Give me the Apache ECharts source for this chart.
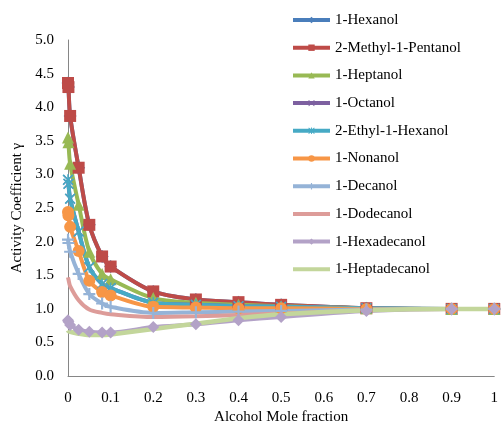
<!DOCTYPE html>
<html>
<head>
<meta charset="utf-8">
<script src="https://cdn.jsdelivr.net/npm/echarts@6/dist/echarts.min.js"></script>
<style>
  html, body { margin: 0; padding: 0; background: #ffffff; }
  #chart { width: 501px; height: 430px; }
</style>
</head>
<body>
<div id="chart"></div>
<script>
// Alcohol mole fraction (x) shared by every series
const moleFraction = [0, 0.001, 0.005, 0.025, 0.05, 0.08, 0.1, 0.2, 0.3, 0.4, 0.5, 0.7, 0.9, 1];

// Activity coefficients for each alcohol
const hexanol        = [4.36, 4.30, 3.87, 3.10, 2.25, 1.78, 1.63, 1.26, 1.14, 1.10, 1.06, 1.01, 1.00, 1.00];
const methylPentanol = [4.36, 4.30, 3.87, 3.10, 2.25, 1.78, 1.63, 1.26, 1.14, 1.10, 1.06, 1.01, 1.00, 1.00];
const heptanol       = [3.55, 3.48, 3.16, 2.55, 1.85, 1.52, 1.44, 1.16, 1.09, 1.06, 1.04, 1.01, 1.00, 1.00];
const octanol        = [2.92, 2.86, 2.64, 2.15, 1.62, 1.37, 1.31, 1.09, 1.06, 1.04, 1.03, 1.01, 1.00, 1.00];
const ethylHexanol   = [2.92, 2.86, 2.64, 2.15, 1.62, 1.37, 1.31, 1.09, 1.06, 1.04, 1.03, 1.01, 1.00, 1.00];
const nonanol        = [2.44, 2.39, 2.22, 1.86, 1.42, 1.25, 1.20, 1.03, 1.02, 1.01, 1.01, 1.00, 1.00, 1.00];
const decanol        = [2.03, 1.98, 1.85, 1.52, 1.22, 1.08, 1.03, 0.94, 0.95, 0.96, 0.97, 0.99, 1.00, 1.00];
const dodecanol      = [1.47, 1.44, 1.34, 1.13, 0.99, 0.94, 0.92, 0.88, 0.89, 0.91, 0.93, 0.98, 1.00, 1.00];
const hexadecanol    = [0.83, 0.81, 0.76, 0.69, 0.66, 0.65, 0.65, 0.73, 0.77, 0.83, 0.88, 0.97, 1.00, 1.00];
const heptadecanol   = [0.68, 0.67, 0.66, 0.63, 0.61, 0.61, 0.62, 0.70, 0.78, 0.86, 0.92, 0.98, 1.00, 1.00];

const seriesNames = [
  '1-Hexanol', '2-Methyl-1-Pentanol', '1-Heptanol', '1-Octanol', '2-Ethyl-1-Hexanol',
  '1-Nonanol', '1-Decanol', '1-Dodecanol', '1-Hexadecanol', '1-Heptadecanol'
];
const seriesValues = [
  hexanol, methylPentanol, heptanol, octanol, ethylHexanol,
  nonanol, decanol, dodecanol, hexadecanol, heptadecanol
];

// Marker shapes
const crossPath = 'path://M0,1 L1,0 L5,4 L9,0 L10,1 L6,5 L10,9 L9,10 L5,6 L1,10 L0,9 L4,5 Z';
const starPath = crossPath + ' M4.3,0 L5.7,0 L5.7,10 L4.3,10 Z';
const plusPath = 'path://M4.1,0 L5.9,0 L5.9,4.1 L10,4.1 L10,5.9 L5.9,5.9 L5.9,10 L4.1,10 L4.1,5.9 L0,5.9 L0,4.1 L4.1,4.1 Z';

const styles = [
  { color: '#4A7EBB', symbol: 'diamond', size: 13, width: 4 },
  { color: '#BE4B48', symbol: 'rect', size: 12, width: 4 },
  { color: '#98B954', symbol: 'triangle', size: 12, width: 4 },
  { color: '#7D60A0', symbol: crossPath, size: 10, width: 4 },
  { color: '#46AAC5', symbol: starPath, size: 11, width: 4 },
  { color: '#F79646', symbol: 'circle', size: 12, width: 4 },
  { color: '#95B3D7', symbol: plusPath, size: 12, width: 4 },
  { color: '#DD9C99', symbol: 'none', size: 0, width: 4 },
  { color: '#B3A2C7', symbol: 'diamond', size: 12, width: 4 },
  { color: '#C3D69B', symbol: 'none', size: 0, width: 4.5 }
];

const font = 'Liberation Serif';

const series = seriesNames.map((name, i) => ({
  name: name,
  type: 'line',
  data: moleFraction.map((x, j) => [x, seriesValues[i][j]]),
  symbol: styles[i].symbol,
  symbolSize: styles[i].size,
  showSymbol: styles[i].symbol !== 'none',
  smooth: 0.3,
  lineStyle: { color: styles[i].color, width: styles[i].width },
  itemStyle: { color: styles[i].color },
  emphasis: { disabled: true }
}));

// Legend entries: plain line (no marker) for series drawn without symbols
const legendData = seriesNames.map((name, i) =>
  styles[i].symbol === 'none' ? { name: name, itemStyle: { opacity: 0 } } : { name: name }
);

const chart = echarts.init(document.getElementById('chart'), null, { renderer: 'canvas' });
chart.setOption({
  animation: false,
  backgroundColor: '#ffffff',
  grid: { left: 68, right: 3, top: 40, bottom: 48 },
  legend: {
    orient: 'vertical',
    left: 286,
    top: 7,
    itemWidth: 37,
    itemHeight: 8,
    itemGap: 11.7,
    lineStyle: { width: 4 },
    textStyle: { fontFamily: font, fontSize: 15, color: '#000', lineHeight: 16 },
    data: legendData
  },
  xAxis: {
    type: 'value',
    min: 0,
    max: 1,
    interval: 0.1,
    name: 'Alcohol Mole fraction',
    nameLocation: 'middle',
    nameGap: 29,
    nameTextStyle: { fontFamily: font, fontSize: 15, color: '#000' },
    axisLine: { lineStyle: { color: '#868686', width: 1 } },
    axisTick: { show: false },
    splitLine: { show: false },
    axisLabel: { fontFamily: font, fontSize: 15, color: '#000', margin: 14 }
  },
  yAxis: {
    type: 'value',
    min: 0,
    max: 5,
    interval: 0.5,
    name: 'Activity Coefficient γ',
    nameLocation: 'middle',
    nameGap: 42,
    nameTextStyle: { fontFamily: font, fontSize: 15, color: '#000' },
    axisLine: { show: true, lineStyle: { color: '#868686', width: 1 } },
    axisTick: { show: false },
    splitLine: { show: false },
    axisLabel: {
      fontFamily: font, fontSize: 15, color: '#000', margin: 14,
      formatter: v => v.toFixed(1)
    }
  },
  series: series
});
</script>
</body>
</html>
